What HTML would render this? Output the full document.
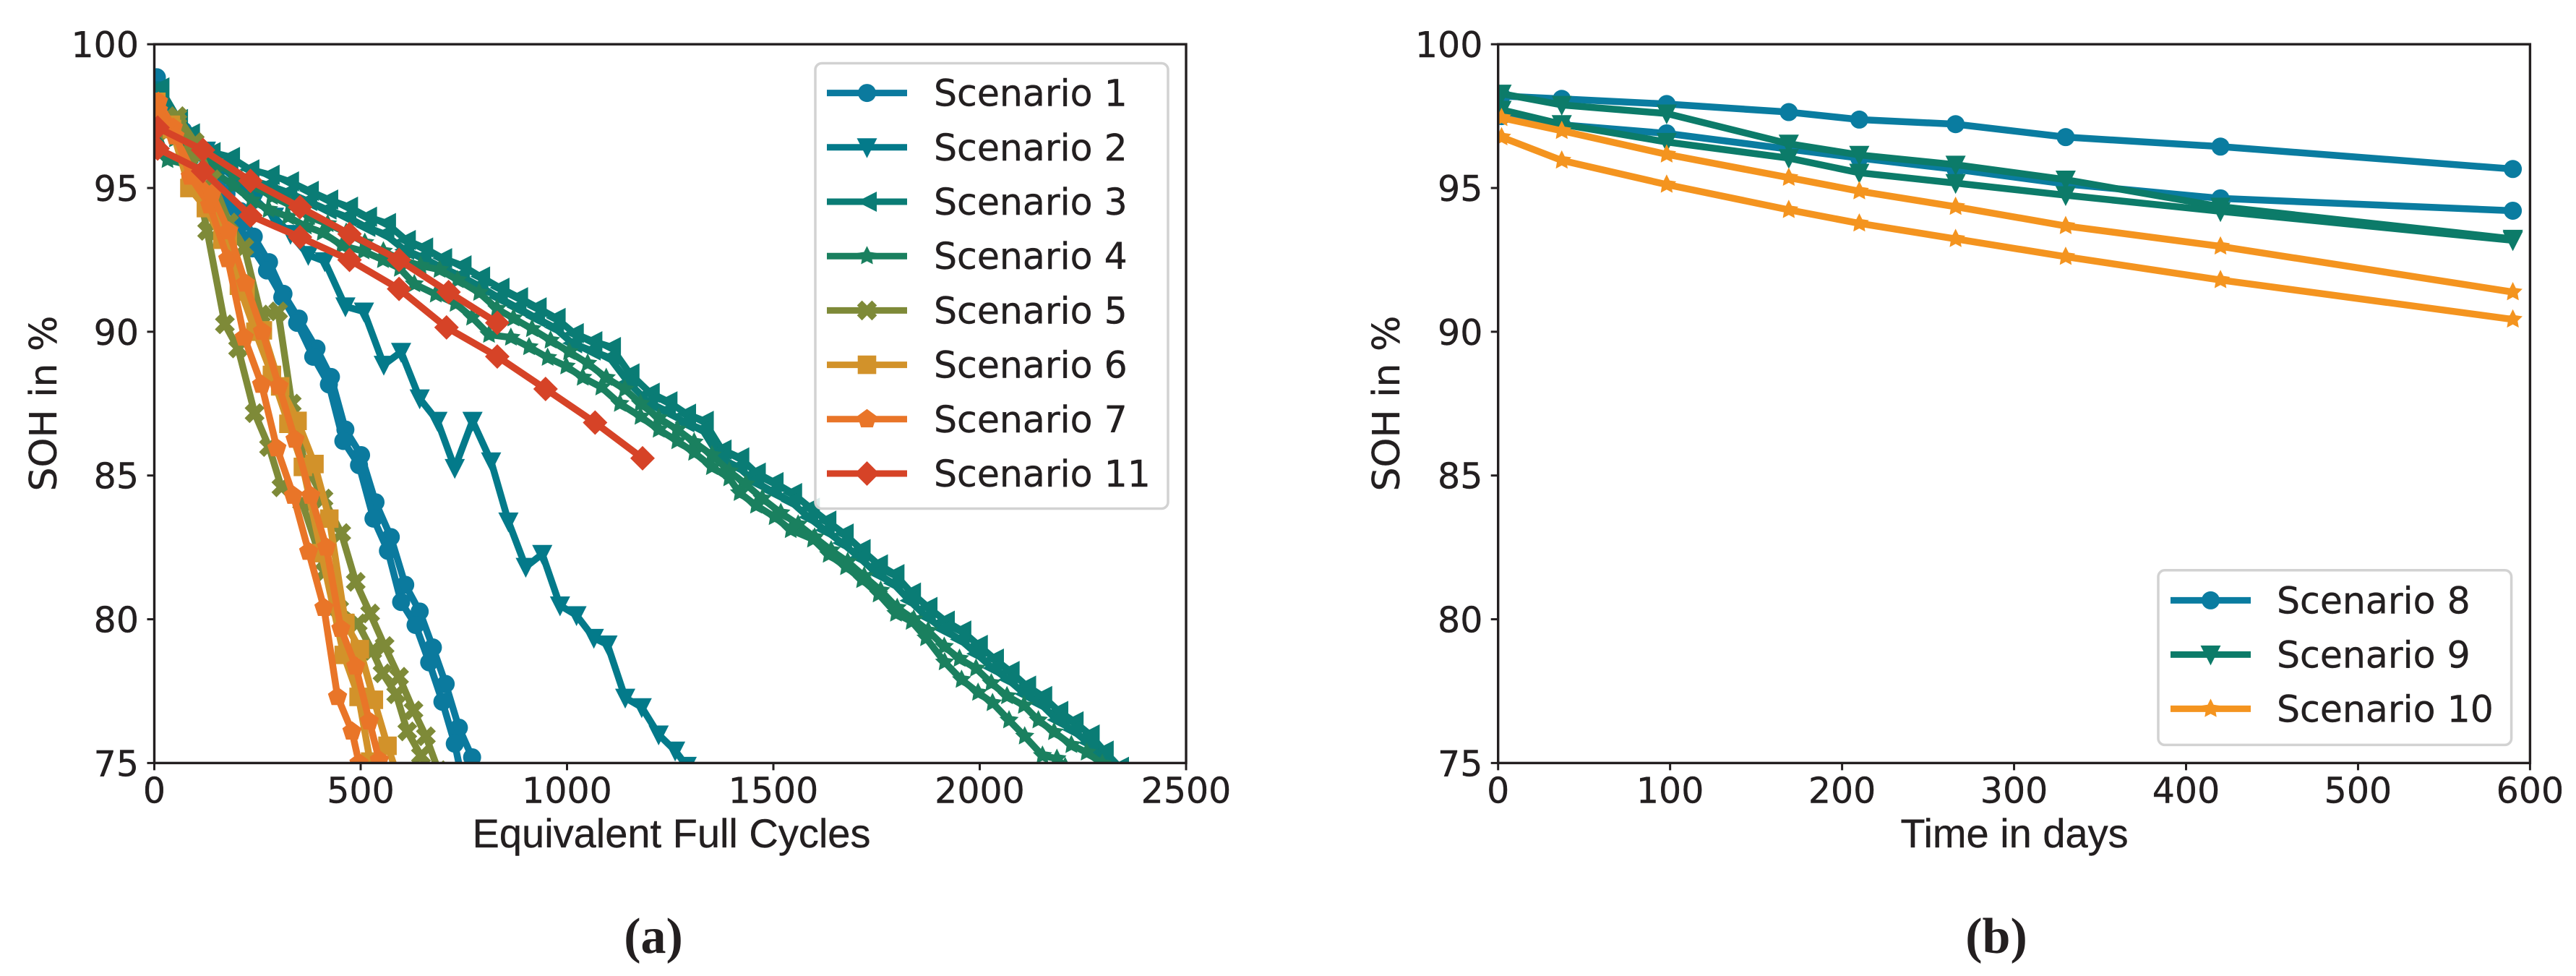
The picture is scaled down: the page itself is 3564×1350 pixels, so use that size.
<!DOCTYPE html>
<html lang="en">
<head>
<meta charset="utf-8">
<title>SOH degradation per scenario</title>
<style>
  html, body { margin: 0; padding: 0; background: #ffffff; }
  body { width: 3564px; height: 1350px; overflow: hidden; }
  svg { display: block; }
  .tick-text { font-family: "DejaVu Sans", sans-serif; font-size: 49px; fill: #231f20; stroke: #231f20; stroke-width: 0.4px; }
  .legend-text { font-family: "DejaVu Sans", sans-serif; font-size: 50.5px; fill: #231f20; stroke: #231f20; stroke-width: 0.4px; }
  .ylab { font-family: "DejaVu Sans", sans-serif; font-size: 52px; fill: #231f20; stroke: #231f20; stroke-width: 0.4px; }
  .xlab { font-family: "Liberation Sans", sans-serif; font-size: 56px; fill: #231f20; stroke: #231f20; stroke-width: 0.4px; }
  .cap { font-family: "Liberation Serif", serif; font-size: 70px; font-weight: bold; fill: #231f20; }
</style>
</head>
<body>
<svg id="figure" xmlns="http://www.w3.org/2000/svg" width="3564" height="1350" viewBox="0 0 3564 1350">
  <rect x="0" y="0" width="3564" height="1350" fill="#ffffff"/>
  <defs>
    <clipPath id="clipA"><rect x="213.5" y="61.2" width="1427.5" height="994.2"/></clipPath>
    <clipPath id="clipB"><rect x="2072.7" y="61.2" width="1427.7" height="994.2"/></clipPath>
  </defs>
  <g id="panelA"></g>
  <g id="panelB"></g>
  <text class="cap" x="904" y="1318" text-anchor="middle">(a)</text>
  <text class="cap" x="2762" y="1318" text-anchor="middle">(b)</text>
</svg>
<script>
// ---------- Panel (a) data: Equivalent Full Cycles vs SOH in % ----------
const xTicksA = [0, 500, 1000, 1500, 2000, 2500];
const yTicks = [75, 80, 85, 90, 95, 100];
const xTicksB = [0, 100, 200, 300, 400, 500, 600];

const s1aCycles = [6,35,70,105,140,175,208,241,278,313,350,393,428,463,501,536,573,608,643,675,706,738,770,790];
const s1aSoh = [98.85,97.5,97.0,96.4,95.8,94.8,94.2,93.31,92.42,91.32,90.46,89.42,88.43,86.6,85.71,84.07,82.86,81.2,80.27,79.02,77.75,76.23,75.2,74.7];
const s1bCycles = [6,30,65,100,135,170,205,238,273,310,346,385,423,458,496,531,566,598,633,666,698,728,745];
const s1bSoh = [98.85,97.6,97.0,96.3,95.6,94.7,93.7,92.9,92.13,91.2,90.31,89.13,88.17,86.2,85.36,83.5,82.38,80.6,79.8,78.5,77.13,75.67,74.5];

const s2Cycles = [5,45,85,125,165,205,245,290,330,373,413,463,508,556,598,643,686,728,771,816,858,900,940,983,1023,1065,1098,1141,1181,1222,1262,1290];
const s2Soh = [98.4,97.3,96.8,96.3,95.7,95.2,94.6,94.0,93.4,92.67,92.45,90.88,90.7,88.85,89.3,87.68,86.9,85.26,86.9,85.49,83.4,81.82,82.27,80.48,80.14,79.35,79.12,77.27,76.94,75.99,75.43,74.9];

const s3aCycles = [13,58,87,137,184,231,280,327,375,422,470,516,562,610,652,698,745,790,837,882,927,973,1017,1062,1107,1152,1201,1244,1289,1332,1375,1418,1458,1501,1546,1589,1629,1671,1712,1754,1794,1834,1874,1916,1956,1996,2035,2073,2113,2152,2191,2228,2267,2301,2338];
const s3aSoh = [98.5,97.4,96.9,96.25,96.08,95.65,95.46,95.23,94.9,94.6,94.35,94.0,93.78,93.19,92.93,92.56,92.31,91.92,91.53,91.2,90.85,90.48,89.95,89.67,89.47,88.55,87.88,87.58,87.15,86.9,85.9,85.63,85.1,84.77,84.39,83.88,83.43,82.98,82.44,81.91,81.57,80.93,80.43,79.95,79.61,79.11,78.63,78.2,77.69,77.33,76.81,76.45,75.99,75.43,74.87];
const s3bCycles = [133,180,227,276,323,371,418,466,512,558,606,648,694,741,786,833,878,923,969,1013,1058,1103,1148,1197,1240,1285,1328,1371,1414,1454,1497,1542,1585,1625,1667,1708,1750,1790,1830,1870,1912,1952,1992,2031,2069,2109,2148,2187,2224,2263,2297,2334];
const s3bSoh = [95.9,95.7,95.3,95.1,94.85,94.55,94.25,94.0,93.65,93.4,92.85,92.6,92.25,91.95,91.6,91.2,90.85,90.5,90.15,89.6,89.35,89.1,88.25,87.55,87.25,86.85,86.6,85.6,85.3,84.8,84.45,84.1,83.55,83.1,82.65,82.15,81.6,81.25,80.65,80.1,79.65,79.3,78.8,78.3,77.9,77.4,77.05,76.5,76.15,75.7,75.15,74.6];

const s4aCycles = [5,50,100,146,192,238,285,330,375,420,465,510,555,600,645,691,735,787,830,870,915,960,1005,1050,1095,1140,1178,1222,1267,1308,1351,1393,1433,1473,1518,1560,1600,1640,1680,1720,1760,1800,1840,1875,1914,1951,1991,2028,2066,2107,2142,2180,2222,2259,2297];
const s4aSoh = [97.6,96.7,96.3,95.9,95.5,95.1,94.7,94.4,94.0,93.75,93.45,93.1,92.8,92.5,92.3,92.16,91.8,91.36,90.8,90.47,90.1,89.7,89.3,88.9,88.4,88.0,87.5,87.0,86.6,86.16,85.71,85.15,84.7,84.2,83.7,83.3,82.85,82.4,82.0,81.5,81.0,80.4,80.0,79.6,79.05,78.63,78.29,77.78,77.33,77.0,76.49,76.08,75.63,75.37,74.98];
const s4bCycles = [5,32,85,146,192,236,277,324,367,408,455,507,554,595,630,682,730,770,811,864,908,953,998,1038,1083,1128,1178,1222,1267,1308,1351,1393,1418,1458,1503,1542,1596,1634,1676,1715,1755,1797,1835,1870,1915,1956,1996,2031,2071,2109,2152,2187,2207];
const s4bSoh = [97.0,95.98,95.8,95.55,95.08,94.57,94.25,94.0,93.67,93.45,93.0,92.8,92.5,92.2,91.66,91.3,90.98,90.5,89.9,89.8,89.47,89.1,88.8,88.41,88.07,87.5,87.05,86.6,86.2,85.8,85.3,84.91,84.4,83.96,83.56,83.11,82.78,82.25,81.82,81.37,80.87,80.2,79.92,79.35,78.51,77.9,77.45,77.09,76.49,75.93,75.26,75.15,74.87];

const s5aCycles = [10,56,90,128,171,203,243,278,308,358,398,413,448,493,528,553,586,613,646,663];
const s5aSoh = [97.0,97.3,96.2,93.51,90.26,89.42,87.17,85.99,84.59,84.07,82.33,81.66,80.36,79.86,78.9,78.12,77.39,76.1,75.26,74.75];
const s5bCycles = [5,56,98,140,181,218,258,300,333,365,410,453,488,523,558,593,628,658,688];
const s5bSoh = [97.5,97.5,96.6,95.3,93.8,92.94,90.6,90.71,87.5,85.4,84.2,83.0,81.3,80.2,79.07,78.0,76.83,75.93,74.75];

const s6aCycles = [5,43,88,133,178,221,263,305,347,388,424,463,498,532,565,593];
const s6aSoh = [98.0,97.05,95.4,94.7,93.3,91.4,90.05,88.1,86.9,85.4,83.5,79.87,78.96,77.2,75.6,74.4];
const s6bCycles = [5,40,85,125,165,205,245,285,325,360,405,459,495,523,560];
const s6bSoh = [97.7,97.2,95.0,94.3,93.2,91.6,90.0,88.5,86.8,85.3,82.3,78.76,77.3,75.05,74.0];

const s7aCycles = [10,46,87,134,178,218,260,297,337,374,411,444,479,496,510];
const s7aSoh = [98.0,97.1,95.4,94.4,92.53,89.8,88.16,85.95,84.3,82.35,80.4,77.3,76.1,75.0,74.2];
const s7bCycles = [10,50,95,140,180,221,262,302,341,379,417,452,488,521,545,560];
const s7bSoh = [97.7,96.8,95.5,94.8,93.5,91.68,90.0,88.1,86.25,84.3,82.5,79.67,78.36,76.45,75.1,74.3];

const s11aCycles = [8,118,233,353,473,593,713,831];
const s11aSoh = [97.1,96.32,95.25,94.33,93.4,92.5,91.38,90.31];
const s11bCycles = [8,118,233,353,473,593,708,831,948,1068,1183];
const s11bSoh = [96.37,95.59,94.04,93.29,92.5,91.49,90.15,89.14,88.01,86.84,85.6];

// ---------- Panel (b) data: time in days vs SOH in % ----------
const days = [2,37,98,169,210,266,330,420,590];
const s8aSoh = [98.2,98.1,97.92,97.64,97.38,97.22,96.77,96.44,95.66];
const s8bSoh = [97.5,97.2,96.9,96.35,96.04,95.65,95.14,94.64,94.21];
const s9aSoh = [98.28,97.89,97.59,96.54,96.15,95.81,95.29,94.35,93.23];
const s9bSoh = [97.72,97.22,96.6,96.04,95.53,95.17,94.75,94.19,93.18];
const s10aSoh = [97.44,96.99,96.17,95.36,94.89,94.35,93.68,92.97,91.38];
const s10bSoh = [96.77,95.96,95.12,94.24,93.77,93.23,92.61,91.8,90.43];

// ---------- Axis functions ----------
const SVGNS = 'http://www.w3.org/2000/svg';
const plotTop = 61.2, plotBottom = 1055.4;
const axA = { left: 213.5, right: 1641, xMax: 2500 };
const axB = { left: 2072.7, right: 3500.4, xMax: 600 };
function xScale(ax, v) { return ax.left + (ax.right - ax.left) * v / ax.xMax; }
function yScale(v) { return plotBottom - (plotBottom - plotTop) * (v - 75) / 25; }

// ---------- Marker shapes ----------
function polyPath(cx, cy, pts) {
  return 'M' + pts.map(function (p) { return (cx + p[0]).toFixed(2) + ' ' + (cy + p[1]).toFixed(2); }).join('L') + 'Z';
}
function markerPath(kind, cx, cy) {
  if (kind === 'circle') {
    const r = 12.5;
    return 'M' + (cx - r) + ' ' + cy + 'a' + r + ' ' + r + ' 0 1 0 ' + (2 * r) + ' 0a' + r + ' ' + r + ' 0 1 0 ' + (-2 * r) + ' 0Z';
  }
  if (kind === 'down') return polyPath(cx, cy, [[-14, -12.5], [14, -12.5], [0, 15]]);
  if (kind === 'left') return polyPath(cx, cy, [[-14, 0], [13.5, -14], [13.5, 14]]);
  if (kind === 'square') return polyPath(cx, cy, [[-12.8, -12.8], [12.8, -12.8], [12.8, 12.8], [-12.8, 12.8]]);
  if (kind === 'diamond') return polyPath(cx, cy, [[0, -17], [17, 0], [0, 17], [-17, 0]]);
  if (kind === 'x') {
    const u = 6.9;
    return polyPath(cx, cy, [[-1, -2], [0, -1], [1, -2], [2, -1], [1, 0], [2, 1], [1, 2], [0, 1], [-1, 2], [-2, 1], [-1, 0], [-2, -1]].map(function (p) { return [p[0] * u, p[1] * u]; }));
  }
  if (kind === 'star' || kind === 'pentagon') {
    const pts = [];
    const n = kind === 'star' ? 10 : 5;
    const R = kind === 'star' ? 14 : 14;
    for (let i = 0; i < n; i++) {
      const a = -Math.PI / 2 + i * 2 * Math.PI / n;
      const r = (kind === 'star' && i % 2 === 1) ? R * 0.5 : R;
      pts.push([r * Math.cos(a), r * Math.sin(a)]);
    }
    return polyPath(cx, cy, pts);
  }
  return '';
}

// ---------- Series tables ----------
const runsA = [
  { label: 'scenario-1-run-a', color: '#0b7a9e', marker: 'circle', xs: s1aCycles, ys: s1aSoh },
  { label: 'scenario-1-run-b', color: '#0b7a9e', marker: 'circle', xs: s1bCycles, ys: s1bSoh },
  { label: 'scenario-2', color: '#037a8a', marker: 'down', xs: s2Cycles, ys: s2Soh },
  { label: 'scenario-3-run-a', color: '#0a7c75', marker: 'left', xs: s3aCycles, ys: s3aSoh },
  { label: 'scenario-3-run-b', color: '#0a7c75', marker: 'left', xs: s3bCycles, ys: s3bSoh },
  { label: 'scenario-4-run-a', color: '#1a805f', marker: 'star', xs: s4aCycles, ys: s4aSoh },
  { label: 'scenario-4-run-b', color: '#1a805f', marker: 'star', xs: s4bCycles, ys: s4bSoh },
  { label: 'scenario-5-run-a', color: '#7e8a38', marker: 'x', xs: s5aCycles, ys: s5aSoh },
  { label: 'scenario-5-run-b', color: '#7e8a38', marker: 'x', xs: s5bCycles, ys: s5bSoh },
  { label: 'scenario-6-run-a', color: '#d2922a', marker: 'square', xs: s6aCycles, ys: s6aSoh },
  { label: 'scenario-6-run-b', color: '#d2922a', marker: 'square', xs: s6bCycles, ys: s6bSoh },
  { label: 'scenario-7-run-a', color: '#e97528', marker: 'pentagon', xs: s7aCycles, ys: s7aSoh },
  { label: 'scenario-7-run-b', color: '#e97528', marker: 'pentagon', xs: s7bCycles, ys: s7bSoh },
  { label: 'scenario-11-run-a', color: '#d64327', marker: 'diamond', xs: s11aCycles, ys: s11aSoh },
  { label: 'scenario-11-run-b', color: '#d64327', marker: 'diamond', xs: s11bCycles, ys: s11bSoh }
];
const runsB = [
  { label: 'scenario-8-run-a', color: '#0a7ca0', marker: 'circle', xs: days, ys: s8aSoh },
  { label: 'scenario-8-run-b', color: '#0a7ca0', marker: 'circle', xs: days, ys: s8bSoh },
  { label: 'scenario-9-run-a', color: '#0c7b69', marker: 'down', xs: days, ys: s9aSoh },
  { label: 'scenario-9-run-b', color: '#0c7b69', marker: 'down', xs: days, ys: s9bSoh },
  { label: 'scenario-10-run-a', color: '#f4941f', marker: 'star', xs: days, ys: s10aSoh },
  { label: 'scenario-10-run-b', color: '#f4941f', marker: 'star', xs: days, ys: s10bSoh }
];
const legendLabelsA = ['Scenario 1', 'Scenario 2', 'Scenario 3', 'Scenario 4', 'Scenario 5', 'Scenario 6', 'Scenario 7', 'Scenario 11'];
const legendColorsA = ['#0b7a9e', '#037a8a', '#0a7c75', '#1a805f', '#7e8a38', '#d2922a', '#e97528', '#d64327'];
const legendMarkersA = ['circle', 'down', 'left', 'star', 'x', 'square', 'pentagon', 'diamond'];
const legendLabelsB = ['Scenario 8', 'Scenario 9', 'Scenario 10'];
const legendColorsB = ['#0a7ca0', '#0c7b69', '#f4941f'];
const legendMarkersB = ['circle', 'down', 'star'];

// ---------- Drawing ----------
function drawSeries(parent, ax, clipId, runs) {
  const clip = document.createElementNS(SVGNS, 'g');
  clip.setAttribute('clip-path', 'url(#' + clipId + ')');
  
  
  parent.appendChild(clip);
  runs.forEach(function (run) {
    const g = document.createElementNS(SVGNS, 'g');
    
    
    const n = Math.min(run.xs.length, run.ys.length);
    let d = '';
    let md = '';
    for (let i = 0; i < n; i++) {
      const px = xScale(ax, run.xs[i]);
      const py = yScale(run.ys[i]);
      d += (i ? 'L' : 'M') + px.toFixed(2) + ' ' + py.toFixed(2);
      md += markerPath(run.marker, px, py);
    }
    const line = document.createElementNS(SVGNS, 'path');
    line.setAttribute('d', d);
    line.setAttribute('fill', 'none');
    line.setAttribute('stroke', run.color);
    line.setAttribute('stroke-width', '9.5');
    line.setAttribute('stroke-linejoin', 'round');
    
    
    g.appendChild(line);
    const marks = document.createElementNS(SVGNS, 'path');
    marks.setAttribute('d', md);
    marks.setAttribute('fill', run.color);
    
    
    g.appendChild(marks);
    clip.appendChild(g);
  });
}

function drawAxes(parent, ax, xTicks, yLabelRight, yTitleX, xTitle, xTitleCenter) {
  const ink = '#231f20';
  const frame = document.createElementNS(SVGNS, 'rect');
  frame.setAttribute('x', ax.left);
  frame.setAttribute('y', plotTop);
  frame.setAttribute('width', ax.right - ax.left);
  frame.setAttribute('height', plotBottom - plotTop);
  frame.setAttribute('fill', 'none');
  frame.setAttribute('stroke', ink);
  frame.setAttribute('stroke-width', '3.4');
  
  
  parent.appendChild(frame);

  xTicks.forEach(function (t) {
    const px = xScale(ax, t);
    const mark = document.createElementNS(SVGNS, 'line');
    mark.setAttribute('x1', px);
    mark.setAttribute('x2', px);
    mark.setAttribute('y1', plotBottom);
    mark.setAttribute('y2', plotBottom + 10);
    mark.setAttribute('stroke', ink);
    mark.setAttribute('stroke-width', '3');
    
    
    parent.appendChild(mark);
    const label = document.createElementNS(SVGNS, 'text');
    label.setAttribute('x', px);
    label.setAttribute('y', 1110.7);
    label.setAttribute('text-anchor', 'middle');
    label.setAttribute('class', 'tick-text');
    
    
    label.textContent = String(t);
    parent.appendChild(label);
  });

  yTicks.forEach(function (t) {
    const py = yScale(t);
    const mark = document.createElementNS(SVGNS, 'line');
    mark.setAttribute('x1', ax.left - 10);
    mark.setAttribute('x2', ax.left);
    mark.setAttribute('y1', py);
    mark.setAttribute('y2', py);
    mark.setAttribute('stroke', ink);
    mark.setAttribute('stroke-width', '3');
    
    
    parent.appendChild(mark);
    const label = document.createElementNS(SVGNS, 'text');
    label.setAttribute('x', yLabelRight);
    label.setAttribute('y', py + 18);
    label.setAttribute('text-anchor', 'end');
    label.setAttribute('class', 'tick-text');
    
    
    label.textContent = String(t);
    parent.appendChild(label);
  });

  const yTitle = document.createElementNS(SVGNS, 'text');
  yTitle.setAttribute('transform', 'translate(' + yTitleX + ' 558) rotate(-90)');
  yTitle.setAttribute('text-anchor', 'middle');
  yTitle.setAttribute('class', 'ylab');
  
  
  yTitle.textContent = 'SOH in %';
  parent.appendChild(yTitle);

  const xT = document.createElementNS(SVGNS, 'text');
  xT.setAttribute('x', xTitleCenter);
  xT.setAttribute('y', 1172);
  xT.setAttribute('text-anchor', 'middle');
  xT.setAttribute('class', 'xlab');
  
  
  xT.textContent = xTitle;
  parent.appendChild(xT);
}

function drawLegend(parent, box, labels, colors, markers) {
  const g = document.createElementNS(SVGNS, 'g');
  
  
  parent.appendChild(g);
  const frame = document.createElementNS(SVGNS, 'rect');
  frame.setAttribute('x', box.x);
  frame.setAttribute('y', box.y);
  frame.setAttribute('width', box.w);
  frame.setAttribute('height', box.h);
  frame.setAttribute('rx', 9);
  frame.setAttribute('fill', '#ffffff');
  frame.setAttribute('fill-opacity', '0.85');
  frame.setAttribute('stroke', '#d2d2d2');
  frame.setAttribute('stroke-width', '3.5');
  
  
  g.appendChild(frame);
  labels.forEach(function (name, i) {
    const y = box.firstRow + i * box.rowStep;
    const entry = document.createElementNS(SVGNS, 'g');
    
    
    const ln = document.createElementNS(SVGNS, 'line');
    ln.setAttribute('x1', box.lineX);
    ln.setAttribute('x2', box.lineX + 111);
    ln.setAttribute('y1', y);
    ln.setAttribute('y2', y);
    ln.setAttribute('stroke', colors[i]);
    ln.setAttribute('stroke-width', '9');
    
    
    entry.appendChild(ln);
    const mk = document.createElementNS(SVGNS, 'path');
    mk.setAttribute('d', markerPath(markers[i], box.lineX + 55.5, y));
    mk.setAttribute('fill', colors[i]);
    
    
    entry.appendChild(mk);
    const tx = document.createElementNS(SVGNS, 'text');
    tx.setAttribute('x', box.textX);
    tx.setAttribute('y', y + 18);
    tx.setAttribute('class', 'legend-text');
    
    
    tx.textContent = name;
    entry.appendChild(tx);
    g.appendChild(entry);
  });
}

const panelA = document.getElementById('panelA');
const panelB = document.getElementById('panelB');
drawSeries(panelA, axA, 'clipA', runsA);
drawAxes(panelA, axA, xTicksA, 192, 78, 'Equivalent Full Cycles', 929);
drawLegend(panelA, { x: 1128, y: 87.5, w: 488, h: 616, firstRow: 128.6, rowStep: 75.2, lineX: 1144, textX: 1292 }, legendLabelsA, legendColorsA, legendMarkersA);
drawSeries(panelB, axB, 'clipB', runsB);
drawAxes(panelB, axB, xTicksB, 2051.4, 1936, 'Time in days', 2787);
drawLegend(panelB, { x: 2986, y: 788.8, w: 488.6, h: 241.6, firstRow: 830.4, rowStep: 75, lineX: 3003, textX: 3150 }, legendLabelsB, legendColorsB, legendMarkersB);
</script>
</body>
</html>
